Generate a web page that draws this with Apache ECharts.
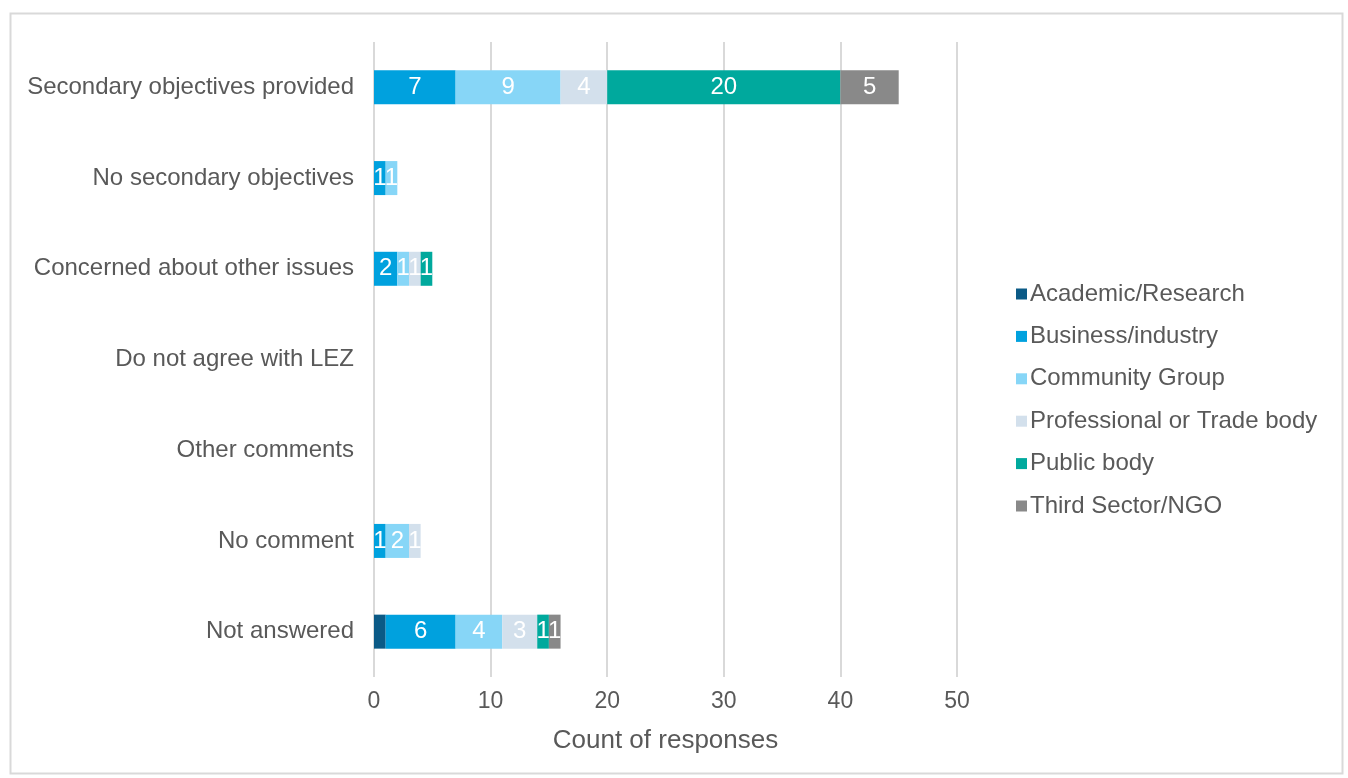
<!DOCTYPE html>
<html><head><meta charset="utf-8">
<script src="https://cdn.jsdelivr.net/npm/echarts@6/dist/echarts.min.js"></script>
<style>html,body{margin:0;padding:0;background:#fff}#c{width:1348px;height:778px}</style>
</head><body><div id="c"></div>
<script>
const categories = ["Secondary objectives provided","No secondary objectives","Concerned about other issues","Do not agree with LEZ","Other comments","No comment","Not answered"];
const seriesNames = ["Academic/Research","Business/industry","Community Group","Professional or Trade body","Public body","Third Sector/NGO"];
const academic     = [0, 0, 0, 0, 0, 0, 1];
const business     = [7, 1, 2, 0, 0, 1, 6];
const community    = [9, 1, 1, 0, 0, 2, 4];
const professional = [4, 0, 1, 0, 0, 1, 3];
const publicBody   = [20, 0, 1, 0, 0, 0, 1];
const thirdSector  = [5, 0, 0, 0, 0, 0, 1];
const xTicks = [0, 10, 20, 30, 40, 50];
const colors = ["#0b5a86", "#00a1de", "#87d6f7", "#d3e0ec", "#00a99d", "#898989"];
const allData = [academic, business, community, professional, publicBody, thirdSector];

const chart = echarts.init(document.getElementById('c'));
chart.setOption({
  animation: false,
  textStyle: { fontFamily: 'Liberation Sans, Arial, sans-serif' },
  graphic: [{ type: 'rect', left: 8, top: 11, shape: { width: 1332, height: 760 }, style: { fill: 'none', stroke: '#d9d9d9', lineWidth: 2 } }],
  grid: { left: 374, right: 391, top: 42, bottom: 101 },
  legend: {
    orient: 'vertical', left: 1011, top: 277,
    itemWidth: 11, itemHeight: 11, itemGap: 18.4,
    icon: 'rect',
    data: seriesNames,
    textStyle: { color: '#595959', fontSize: 24, lineHeight: 24, padding: [0, 0, 0, -2] }
  },
  xAxis: {
    type: 'value', min: 0, max: 50, interval: 10,
    name: 'Count of responses', nameLocation: 'middle', nameGap: 51,
    nameTextStyle: { color: '#595959', fontSize: 26 },
    axisLine: { show: false }, axisTick: { show: false },
    axisLabel: { color: '#595959', fontSize: 23, margin: 13,
      formatter: v => xTicks.includes(v) ? String(v) : '' },
    splitLine: { lineStyle: { color: '#d9d9d9', width: 2 } }
  },
  yAxis: {
    type: 'category', data: categories, inverse: true,
    axisLine: { show: false }, axisTick: { show: false },
    axisLabel: { color: '#595959', fontSize: 24, margin: 20 }
  },
  series: seriesNames.map((n, i) => ({
    name: n, type: 'bar', stack: 'total', barWidth: 34,
    itemStyle: { color: colors[i] },
    label: {
      show: true, position: 'inside', color: '#fff', fontSize: 24,
      formatter: p => (p.value > 0 && !(i === 0)) ? String(p.value) : ''
    },
    data: allData[i]
  }))
});
</script></body></html>
